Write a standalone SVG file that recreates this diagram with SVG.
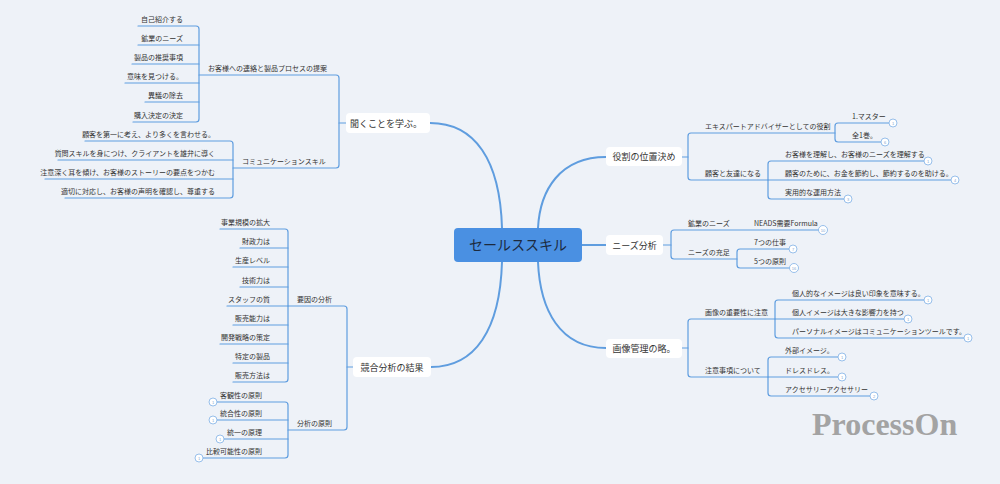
<svg xmlns="http://www.w3.org/2000/svg" width="1000" height="484" viewBox="0 0 1000 484">
<style>
.ln{fill:none;stroke:#5f9ddf;stroke-width:1.2;stroke-linecap:round}
.mn{fill:none;stroke:#5f9ddf;stroke-width:2}
.t{font-family:"Noto Sans CJK JP","Noto Sans",sans-serif;font-size:7px;fill:#333}
.e{text-anchor:end}
.b1{fill:#fff}
.b1t{font-family:"Noto Sans CJK JP","Noto Sans",sans-serif;font-size:9px;fill:#333;text-anchor:middle}
.bd circle{fill:#fff;stroke:#7fb0e6;stroke-width:0.8}
.bd text{font-family:"Liberation Sans",sans-serif;font-size:4px;fill:#7fa6d0;text-anchor:middle}
</style>
<rect width="1000" height="484" fill="#eef2f8"/>
<g id="connectors">
<path class="mn" d="M430,123 C475,123 500,160 502,228"/>
<path class="mn" d="M431,367 C475,367 500,330 502,262"/>
<path class="mn" d="M606,157 C560,157 540,190 538,228"/>
<path class="mn" d="M606,348 C560,348 540,310 538,262"/>
<path class="mn" d="M582,245 H606"/>
<path class="ln" d="M339,123 H346"/>
<path class="ln" d="M199,75 H336 Q339,75 339,78 V165 Q339,168 336,168 H233"/>
<path class="ln" d="M138,26 H196 Q199,26 199,29 V119 Q199,122 196,122 H133"/>
<path class="ln" d="M138,45 H199 M132,64 H199 M125,83 H199 M145,102 H199"/>
<path class="ln" d="M85,141 H230 Q233,141 233,144 V195 Q233,198 230,198 H65"/>
<path class="ln" d="M58,160 H233 M45,179 H233"/>
<path class="ln" d="M347,367 H353"/>
<path class="ln" d="M288,306 H344 Q347,306 347,309 V427 Q347,430 344,430 H288"/>
<path class="ln" d="M220,229 H285 Q288,229 288,232 V379 Q288,382 285,382 H233"/>
<path class="ln" d="M240,248 H288 M233,267 H288 M240,287 H288 M227,306 H288 M233,325 H288 M220,344 H288 M233,363 H288"/>
<path class="ln" d="M217,402 H285 Q288,402 288,405 V455 Q288,458 285,458 H203"/>
<path class="ln" d="M217,420 H288 M224,439 H288"/>
<path class="ln" d="M682,157 H688"/>
<path class="ln" d="M835,133 H691 Q688,133 688,136 V177 Q688,180 691,180 H768"/>
<path class="ln" d="M889,123 H838 Q835,123 835,126 V139 Q835,142 838,142 H881"/>
<path class="ln" d="M924,161 H771 Q768,161 768,164 V196 Q768,199 771,199 H844"/>
<path class="ln" d="M768,180 H951"/>
<path class="ln" d="M663,245 H671"/>
<path class="ln" d="M819,230 H674 Q671,230 671,233 V256 Q671,259 674,259 H737"/>
<path class="ln" d="M789,249 H740 Q737,249 737,252 V265 Q737,268 740,268 H790"/>
<path class="ln" d="M682,348 H688"/>
<path class="ln" d="M775,319 H691 Q688,319 688,322 V374 Q688,377 691,377 H768"/>
<path class="ln" d="M924,300 H778 Q775,300 775,303 V335 Q775,338 778,338 H964"/>
<path class="ln" d="M775,319 H904"/>
<path class="ln" d="M838,357 H771 Q768,357 768,360 V393 Q768,396 771,396 H870"/>
<path class="ln" d="M768,377 H838"/>
</g>
<g id="center">
<rect x="454" y="228" width="128" height="34" rx="4" fill="#4a90e2"/>
<text x="518" y="250" font-family="Noto Sans CJK JP,Noto Sans,sans-serif" font-size="14" fill="#1c2a3e" text-anchor="middle">セールススキル</text>
</g>
<g id="listen">
<rect class="b1" x="346" y="113" width="84" height="20" rx="4"/>
<text class="b1t" x="386" y="126.5">聞くことを学ぶ。</text>
<text class="t" x="208" y="71">お客様への連絡と製品プロセスの提案</text>
<text class="t e" x="183" y="22">自己紹介する</text>
<text class="t e" x="183" y="41">鉱業のニーズ</text>
<text class="t e" x="183" y="60">製品の推奨事項</text>
<text class="t e" x="183" y="79">意味を見つける。</text>
<text class="t e" x="183" y="98">異議の除去</text>
<text class="t e" x="183" y="118">購入決定の決定</text>
<text class="t" x="242" y="164">コミュニケーションスキル</text>
<text class="t e" x="215" y="137">顧客を第一に考え、より多くを言わせる。</text>
<text class="t e" x="215" y="156">質問スキルを身につけ、クライアントを雄弁に導く</text>
<text class="t e" x="215" y="175">注意深く耳を傾け、お客様のストーリーの要点をつかむ</text>
<text class="t e" x="215" y="194">適切に対応し、お客様の声明を確認し、尊重する</text>
</g>
<g id="competition">
<rect class="b1" x="353" y="357" width="78" height="20" rx="4"/>
<text class="b1t" x="392" y="370.5">競合分析の結果</text>
<text class="t" x="297" y="302">要因の分析</text>
<text class="t e" x="270" y="225">事業規模の拡大</text>
<text class="t e" x="270" y="244">財政力は</text>
<text class="t e" x="270" y="263">生産レベル</text>
<text class="t e" x="270" y="283">技術力は</text>
<text class="t e" x="270" y="302">スタッフの質</text>
<text class="t e" x="270" y="321">販売能力は</text>
<text class="t e" x="270" y="340">開発戦略の策定</text>
<text class="t e" x="270" y="359">特定の製品</text>
<text class="t e" x="270" y="378">販売方法は</text>
<text class="t" x="297" y="426">分析の原則</text>
<text class="t e" x="262" y="398">客観性の原則</text>
<text class="t e" x="262" y="416">統合性の原則</text>
<text class="t e" x="262" y="435">統一の原理</text>
<text class="t e" x="262" y="454">比較可能性の原則</text>
<g class="bd">
<circle cx="213" cy="402" r="4"/><text x="213" y="403.5">1</text>
<circle cx="213" cy="420" r="4"/><text x="213" y="421.5">1</text>
<circle cx="220" cy="439" r="4"/><text x="220" y="440.5">1</text>
<circle cx="199" cy="458" r="4"/><text x="199" y="459.5">1</text>
</g>
</g>
<g id="role">
<rect class="b1" x="606" y="147" width="76" height="19" rx="4"/>
<text class="b1t" x="644" y="160">役割の位置決め</text>
<text class="t" x="705" y="129">エキスパートアドバイザーとしての役割</text>
<text class="t" x="852" y="119">1.マスター</text>
<text class="t" x="852" y="138">全1巻。</text>
<text class="t" x="705" y="176">顧客と友達になる</text>
<text class="t" x="785" y="157">お客様を理解し、お客様のニーズを理解する</text>
<text class="t" x="785" y="176">顧客のために、お金を節約し、節約するのを助ける。</text>
<text class="t" x="785" y="195">実用的な運用方法</text>
<g class="bd">
<circle cx="893" cy="123" r="4"/><text x="893" y="124.5">1</text>
<circle cx="885" cy="142" r="4"/><text x="885" y="143.5">6</text>
<circle cx="928" cy="161" r="4"/><text x="928" y="162.5">1</text>
<circle cx="955" cy="180" r="4"/><text x="955" y="181.5">4</text>
<circle cx="848" cy="199" r="4"/><text x="848" y="200.5">3</text>
</g>
</g>
<g id="needs">
<rect class="b1" x="606" y="235" width="57" height="20" rx="4"/>
<text class="b1t" x="634.5" y="248.5">ニーズ分析</text>
<text class="t" x="688" y="226">鉱業のニーズ</text>
<text class="t" x="754" y="226">NEADS需要Formula</text>
<text class="t" x="688" y="255">ニーズの充足</text>
<text class="t" x="754" y="245">7つの仕事</text>
<text class="t" x="754" y="264">5つの原則</text>
<g class="bd">
<circle cx="823" cy="230" r="4.5"/><text x="823" y="231.5">10</text>
<circle cx="793" cy="249" r="4"/><text x="793" y="250.5">7</text>
<circle cx="794" cy="268" r="4.5"/><text x="794" y="269.5">16</text>
</g>
</g>
<g id="image">
<rect class="b1" x="606" y="339" width="76" height="19" rx="4"/>
<text class="b1t" x="644" y="352">画像管理の略。</text>
<text class="t" x="705" y="315">画像の重要性に注意</text>
<text class="t" x="792" y="296">個人的なイメージは良い印象を意味する。</text>
<text class="t" x="792" y="315">個人イメージは大きな影響力を持つ</text>
<text class="t" x="792" y="334">パーソナルイメージはコミュニケーションツールです。</text>
<text class="t" x="705" y="373">注意事項について</text>
<text class="t" x="785" y="353">外部イメージ。</text>
<text class="t" x="785" y="373">ドレスドレス。</text>
<text class="t" x="785" y="392">アクセサリーアクセサリー</text>
<g class="bd">
<circle cx="928" cy="300" r="4"/><text x="928" y="301.5">1</text>
<circle cx="908" cy="319" r="4"/><text x="908" y="320.5">1</text>
<circle cx="968" cy="338" r="4"/><text x="968" y="339.5">1</text>
<circle cx="842" cy="357" r="4"/><text x="842" y="358.5">1</text>
<circle cx="842" cy="377" r="4"/><text x="842" y="378.5">1</text>
<circle cx="874" cy="396" r="4"/><text x="874" y="397.5">2</text>
</g>
</g>
<text x="812" y="435" font-family="Liberation Serif,serif" font-weight="bold" font-size="32" fill="#a3a3a3">ProcessOn</text>
</svg>
